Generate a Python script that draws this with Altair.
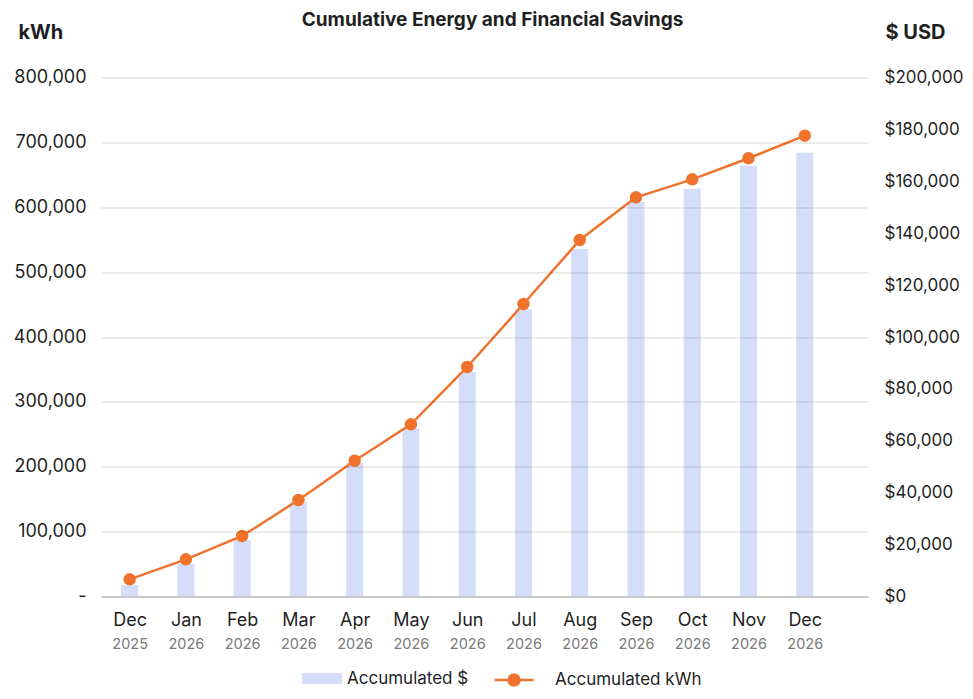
import altair as alt
import pandas as pd

# ---- data ----
months = ["Dec", "Jan", "Feb", "Mar", "Apr", "May", "Jun", "Jul", "Aug", "Sep", "Oct", "Nov", "Dec"]
years = ["2025", "2026", "2026", "2026", "2026", "2026", "2026", "2026", "2026", "2026", "2026", "2026", "2026"]
kwh = [26500, 57300, 93300, 148700, 209300, 265400, 353800, 450900, 549500, 615300, 643000, 675500, 710300]
usd = [4400, 12500, 21800, 36400, 51400, 64700, 86500, 110700, 133900, 152000, 157000, 166000, 171000]
kwh_ticks = [0, 100000, 200000, 300000, 400000, 500000, 600000, 700000, 800000]
usd_ticks = [0, 20000, 40000, 60000, 80000, 100000, 120000, 140000, 160000, 180000, 200000]

FONT = "Inter"
ORANGE = "#f0732d"
BLUE = "#d4ddf9"
TEXT = "#1f1f1f"

df = pd.DataFrame({
    "idx": list(range(len(months))),
    "month": months,
    "year": years,
    "kwh": kwh,
    "usd": usd,
    "s_usd": ["Accumulated $"] * len(months),
    "s_kwh": ["Accumulated kWh"] * len(months),
})

month_arr = "[" + ",".join(f"'{m}'" for m in months) + "]"
year_arr = "[" + ",".join(f"'{y}'" for y in years) + "]"
idx_vals = list(range(len(months)))
xscale = alt.Scale(domain=[-0.42, 13.035], nice=False, zero=False)

x_month = alt.X(
    "idx:Q", scale=xscale,
    axis=alt.Axis(values=idx_vals, labelExpr=f"{month_arr}[datum.value]", title=None,
                  grid=False, ticks=False, domain=True, domainColor="#dadada", domainWidth=2,
                  labelFontSize=18, labelColor=TEXT, labelPadding=15, orient="bottom",
                  labelFont=FONT, labelFlush=False, labelOverlap=False),
)
x_year = alt.X(
    "idx:Q", scale=xscale,
    axis=alt.Axis(values=idx_vals, labelExpr=f"{year_arr}[datum.value]", title=None,
                  grid=False, ticks=False, domain=False,
                  labelFontSize=14.5, labelColor="#7a7a7a", labelPadding=41, orient="bottom",
                  labelFont=FONT, labelFlush=False, labelOverlap=False),
)

bars = alt.Chart(df).mark_bar(size=17).encode(
    x=x_year,
    y=alt.Y("usd:Q", scale=alt.Scale(domain=[0, 200000], nice=False),
            axis=alt.Axis(orient="right", values=usd_ticks, format="$,.0f", grid=False,
                          ticks=False, domain=False, labelPadding=16, labelFontSize=17,
                          labelColor=TEXT, labelFont=FONT,
                          title="$ USD", titleAngle=0, titleAlign="left", titleBaseline="middle",
                          titleX=17, titleY=-45, titleFontSize=20, titleFontWeight="bold",
                          titleColor=TEXT, titleFont=FONT)),
    fill=alt.Fill("s_usd:N", scale=alt.Scale(range=[BLUE]),
                  legend=alt.Legend(title=None, orient="none", legendX=211, legendY=591,
                                    symbolType="M-2,-0.55H2V0.55H-2Z", symbolSize=400,
                                    symbolStrokeWidth=0, labelOffset=15, labelFontSize=17,
                                    labelColor=TEXT, labelFont=FONT, labelLimit=300)),
)

line = alt.Chart(df).mark_line(
    strokeWidth=2.5,
    point=alt.OverlayMarkDef(filled=True, fill=ORANGE, size=110, opacity=1),
).encode(
    x=x_month,
    y=alt.Y("kwh:Q", scale=alt.Scale(domain=[0, 800000], nice=False),
            axis=alt.Axis(orient="left", values=kwh_ticks,
                          labelExpr="datum.value == 0 ? '-' : format(datum.value, ',')",
                          grid=True, gridColor="rgba(0,0,0,0.16)", gridWidth=1, zindex=1,
                          ticks=False, domain=False, labelPadding=15, labelFontSize=18,
                          labelColor=TEXT, labelFont=FONT,
                          title="kWh", titleAngle=0, titleAlign="left", titleBaseline="middle",
                          titleX=-83, titleY=-45, titleFontSize=20, titleFontWeight="bold",
                          titleColor=TEXT, titleFont=FONT)),
    stroke=alt.Stroke("s_kwh:N", scale=alt.Scale(range=[ORANGE]),
                      legend=alt.Legend(title=None, orient="none", legendX=416, legendY=591,
                                        symbolType="M-3.4,0H0.5M-0.9,0A0.55,0.55,0,1,1,-2.0,0A0.55,0.55,0,1,1,-0.9,0Z",
                                        symbolSize=400, symbolStrokeWidth=2.5,
                                        symbolFillColor=ORANGE, labelOffset=15, labelFontSize=17,
                                        labelColor=TEXT, labelFont=FONT, labelLimit=300)),
)

chart = alt.layer(bars, line).resolve_scale(
    y="independent"
).resolve_axis(x="independent").properties(
    width=767,
    height=519,
    autosize=alt.AutoSizeParams(type="none"),
    padding={"left": 93, "top": 69.5, "right": 96, "bottom": 94},
    title=alt.TitleParams("Cumulative Energy and Financial Savings", fontSize=19,
                          fontWeight="bold", font=FONT, color=TEXT, anchor="middle",
                          dx=8, dy=11),
).configure(font=FONT).configure_view(strokeWidth=0, stroke="transparent")

chart.save("out.html", embed_options={"renderer": "svg", "actions": False})
